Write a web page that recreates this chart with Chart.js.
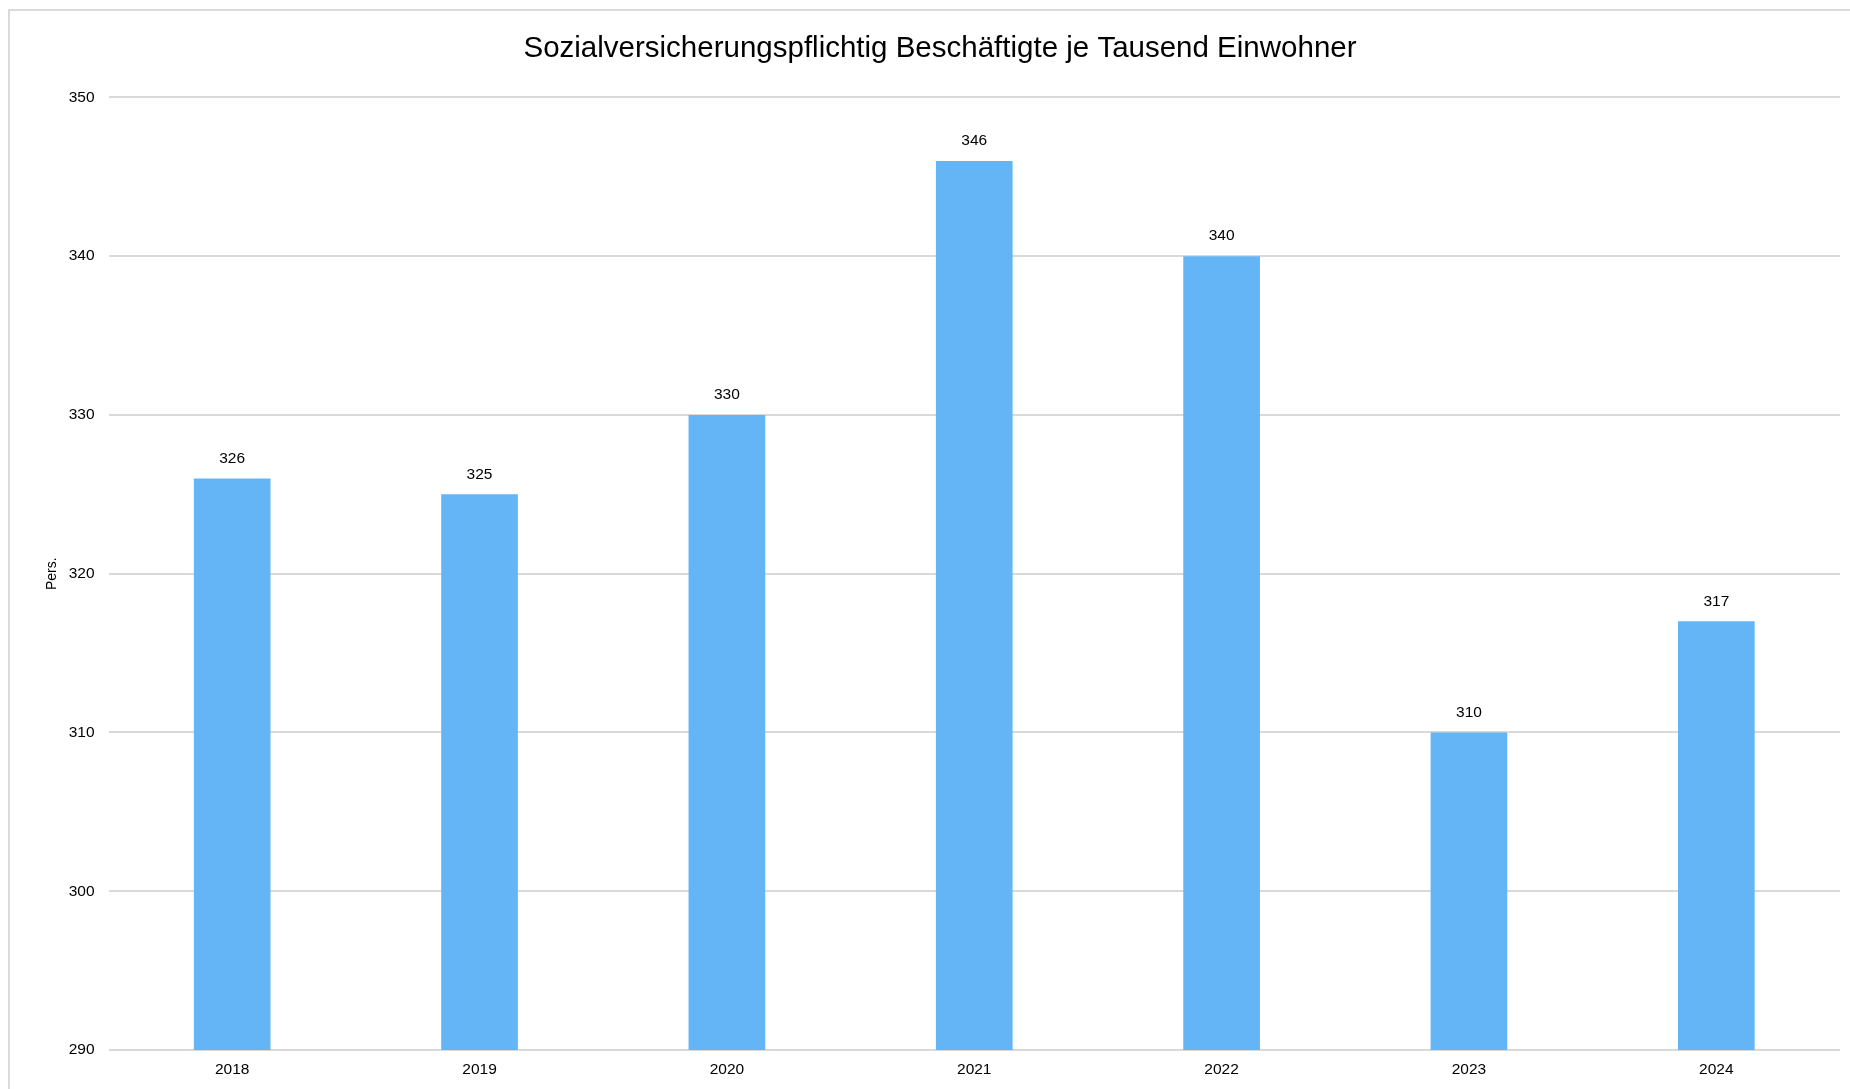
<!DOCTYPE html>
<html>
<head>
<meta charset="utf-8">
<script src="https://cdn.jsdelivr.net/npm/chart.js@4/dist/chart.umd.min.js"></script>
<style>
html,body{margin:0;padding:0;background:#fff;overflow:hidden;}
#frame{position:absolute;left:8px;top:9px;width:1900px;height:1200px;border:2px solid #dadada;box-sizing:border-box;}
#wrap{position:absolute;left:0;top:0;width:1850px;height:1089px;}
</style>
</head>
<body>
<div id="frame"></div>
<div id="wrap"><canvas id="c"></canvas></div>
<script>
const chartTitle = 'Sozialversicherungspflichtig Beschäftigte je Tausend Einwohner';
const categories = ['2018','2019','2020','2021','2022','2023','2024'];
const values = [326, 325, 330, 346, 340, 310, 317];
const yTicks = [290, 300, 310, 320, 330, 340, 350];
const yAxisTitle = 'Pers.';

const FONT = "'Liberation Sans', Arial, sans-serif";

const valueLabels = {
  id: 'valueLabels',
  afterDatasetsDraw(chart) {
    const ctx = chart.ctx;
    const meta = chart.getDatasetMeta(0);
    ctx.save();
    ctx.font = '15.5px ' + FONT;
    ctx.fillStyle = '#000';
    ctx.textAlign = 'center';
    ctx.textBaseline = 'middle';
    meta.data.forEach((bar, i) => {
      ctx.fillText(String(values[i]), bar.x, bar.y - 20);
    });
    ctx.restore();
  }
};

new Chart(document.getElementById('c'), {
  type: 'bar',
  data: {
    labels: categories,
    datasets: [{
      data: values,
      backgroundColor: '#64b5f6',
      borderWidth: 0,
      barPercentage: 0.31,
      categoryPercentage: 1.0
    }]
  },
  options: {
    responsive: true,
    maintainAspectRatio: false,
    animation: false,
    layout: { padding: { left: 40, right: 10, top: 0, bottom: 0 } },
    plugins: {
      legend: { display: false },
      tooltip: { enabled: false },
      title: {
        display: true,
        text: chartTitle,
        color: '#000',
        font: { family: FONT, size: 29.5, weight: 'normal' },
        padding: { top: 31, bottom: 31 }
      }
    },
    scales: {
      x: {
        grid: { display: false, drawTicks: false },
        border: { display: false },
        ticks: { color: '#000', font: { family: FONT, size: 15.5 }, padding: 10 },
        afterFit(scale) { scale.height = 39; }
      },
      y: {
        min: 290,
        max: 350,
        afterBuildTicks(scale) { scale.ticks = yTicks.map(v => ({ value: v })); },
        grid: { color: '#d9d9d9', lineWidth: 2, drawTicks: false },
        border: { display: false },
        title: { display: true, text: yAxisTitle, color: '#000', font: { family: FONT, size: 14 }, padding: { top: 4, bottom: 0 } },
        ticks: { color: '#000', font: { family: FONT, size: 15.5 }, padding: 14 },
        afterFit(scale) { scale.width = 68.5; }
      }
    }
  },
  plugins: [valueLabels]
});
</script>
</body>
</html>
